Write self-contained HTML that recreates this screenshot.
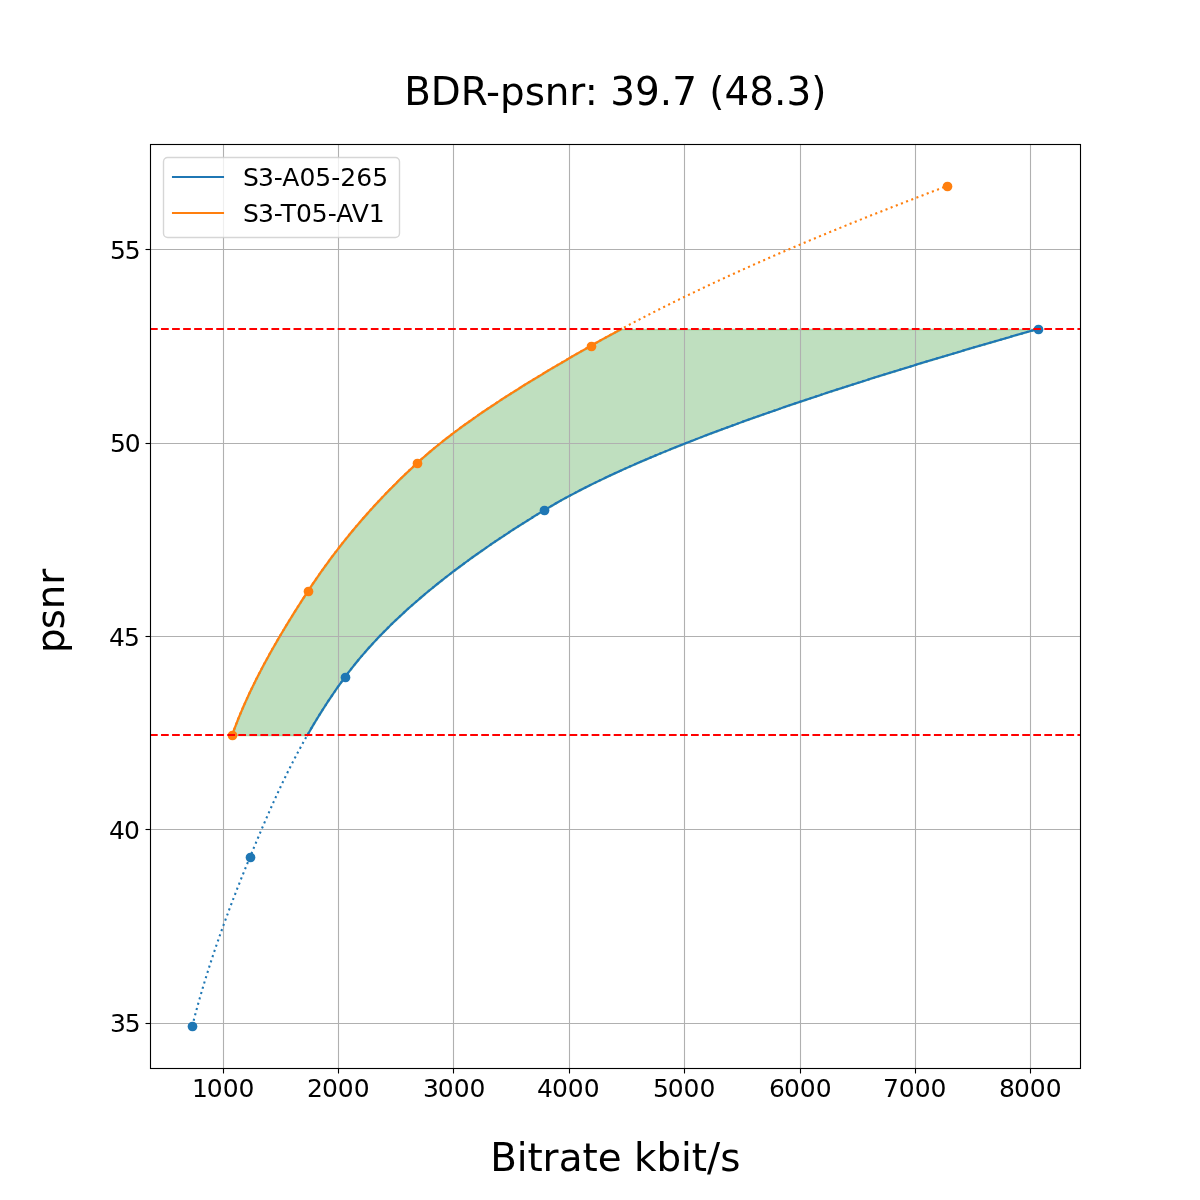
<!DOCTYPE html>
<html lang="en"><head><meta charset="utf-8"><title>BDR-psnr: 39.7 (48.3)</title>
<style>html,body{margin:0;padding:0;background:#fff}body{width:1200px;height:1200px;overflow:hidden}svg{display:block}text{font-family:"DejaVu Sans", "Liberation Sans", sans-serif;fill:#000}</style></head><body>
<svg width="1200" height="1200" viewBox="0 0 1200 1200">
<rect width="1200" height="1200" fill="#fff"/>
<defs><clipPath id="ax"><rect x="150" y="144" width="930" height="924"/></clipPath></defs>
<g clip-path="url(#ax)">
<path d="M307.42 735.00 L308.00 733.98 L308.59 732.96 L309.17 731.95 L309.76 730.93 L310.35 729.91 L310.95 728.89 L311.54 727.88 L312.14 726.86 L312.75 725.84 L313.35 724.82 L313.96 723.81 L314.57 722.79 L315.18 721.77 L315.79 720.75 L316.41 719.74 L317.03 718.72 L317.65 717.70 L318.28 716.68 L318.91 715.67 L319.54 714.65 L320.17 713.63 L320.81 712.61 L321.45 711.60 L322.09 710.58 L322.74 709.56 L323.39 708.54 L324.04 707.53 L324.69 706.51 L325.35 705.49 L326.01 704.47 L326.67 703.46 L327.34 702.44 L328.01 701.42 L328.68 700.40 L329.36 699.39 L330.03 698.37 L330.72 697.35 L331.40 696.33 L332.09 695.32 L332.78 694.30 L333.47 693.28 L334.17 692.26 L334.87 691.25 L335.57 690.23 L336.28 689.21 L336.99 688.19 L337.70 687.18 L338.42 686.16 L339.14 685.14 L339.86 684.12 L340.59 683.11 L341.32 682.09 L342.05 681.07 L342.79 680.05 L343.53 679.04 L344.27 678.02 L345.02 677.00 L345.77 675.98 L346.53 674.96 L347.29 673.95 L348.06 672.93 L348.84 671.91 L349.62 670.89 L350.41 669.88 L351.20 668.86 L352.00 667.84 L352.80 666.82 L353.61 665.81 L354.42 664.79 L355.24 663.77 L356.07 662.75 L356.90 661.74 L357.74 660.72 L358.58 659.70 L359.43 658.68 L360.29 657.67 L361.15 656.65 L362.01 655.63 L362.89 654.61 L363.76 653.60 L364.65 652.58 L365.53 651.56 L366.43 650.54 L367.33 649.53 L368.24 648.51 L369.15 647.49 L370.06 646.47 L370.99 645.46 L371.92 644.44 L372.85 643.42 L373.79 642.40 L374.74 641.39 L375.69 640.37 L376.64 639.35 L377.61 638.33 L378.58 637.32 L379.55 636.30 L380.53 635.28 L381.51 634.26 L382.51 633.25 L383.50 632.23 L384.51 631.21 L385.51 630.19 L386.53 629.18 L387.55 628.16 L388.57 627.14 L389.60 626.12 L390.64 625.11 L391.68 624.09 L392.73 623.07 L393.78 622.05 L394.84 621.04 L395.91 620.02 L396.98 619.00 L398.06 617.98 L399.14 616.96 L400.23 615.95 L401.32 614.93 L402.42 613.91 L403.52 612.89 L404.63 611.88 L405.75 610.86 L406.87 609.84 L408.00 608.82 L409.13 607.81 L410.27 606.79 L411.42 605.77 L412.57 604.75 L413.72 603.74 L414.88 602.72 L416.05 601.70 L417.22 600.68 L418.40 599.67 L419.59 598.65 L420.78 597.63 L421.97 596.61 L423.17 595.60 L424.38 594.58 L425.59 593.56 L426.81 592.54 L428.04 591.53 L429.27 590.51 L430.50 589.49 L431.74 588.47 L432.99 587.46 L434.24 586.44 L435.50 585.42 L436.76 584.40 L438.03 583.39 L439.31 582.37 L440.59 581.35 L441.87 580.33 L443.17 579.32 L444.46 578.30 L445.77 577.28 L447.08 576.26 L448.39 575.25 L449.71 574.23 L451.04 573.21 L452.37 572.19 L453.71 571.18 L455.05 570.16 L456.40 569.14 L457.75 568.12 L459.11 567.11 L460.48 566.09 L461.85 565.07 L463.23 564.05 L464.61 563.04 L466.00 562.02 L467.39 561.00 L468.79 559.98 L470.20 558.96 L471.61 557.95 L473.03 556.93 L474.45 555.91 L475.88 554.89 L477.31 553.88 L478.75 552.86 L480.20 551.84 L481.65 550.82 L483.10 549.81 L484.57 548.79 L486.03 547.77 L487.51 546.75 L488.99 545.74 L490.47 544.72 L491.96 543.70 L493.46 542.68 L494.96 541.67 L496.47 540.65 L497.98 539.63 L499.50 538.61 L501.02 537.60 L502.56 536.58 L504.09 535.56 L505.63 534.54 L507.18 533.53 L508.73 532.51 L510.29 531.49 L511.86 530.47 L513.43 529.46 L515.00 528.44 L516.58 527.42 L518.17 526.40 L519.76 525.39 L521.36 524.37 L522.96 523.35 L524.57 522.33 L526.19 521.32 L527.81 520.30 L529.43 519.28 L531.07 518.26 L532.70 517.25 L534.35 516.23 L536.00 515.21 L537.65 514.19 L539.31 513.18 L540.98 512.16 L542.65 511.14 L544.33 510.12 L546.02 509.11 L547.72 508.09 L549.44 507.07 L551.17 506.05 L552.92 505.04 L554.69 504.02 L556.47 503.00 L558.26 501.98 L560.07 500.96 L561.90 499.95 L563.74 498.93 L565.59 497.91 L567.46 496.89 L569.35 495.88 L571.25 494.86 L573.16 493.84 L575.09 492.82 L577.03 491.81 L578.99 490.79 L580.96 489.77 L582.95 488.75 L584.95 487.74 L586.96 486.72 L588.99 485.70 L591.03 484.68 L593.09 483.67 L595.16 482.65 L597.24 481.63 L599.34 480.61 L601.45 479.60 L603.58 478.58 L605.72 477.56 L607.88 476.54 L610.04 475.53 L612.22 474.51 L614.42 473.49 L616.63 472.47 L618.85 471.46 L621.08 470.44 L623.33 469.42 L625.59 468.40 L627.87 467.39 L630.16 466.37 L632.46 465.35 L634.77 464.33 L637.10 463.32 L639.44 462.30 L641.79 461.28 L644.16 460.26 L646.54 459.25 L648.93 458.23 L651.33 457.21 L653.75 456.19 L656.18 455.18 L658.62 454.16 L661.08 453.14 L663.55 452.12 L666.02 451.11 L668.52 450.09 L671.02 449.07 L673.54 448.05 L676.07 447.04 L678.61 446.02 L681.16 445.00 L683.72 443.98 L686.30 442.96 L688.89 441.95 L691.49 440.93 L694.10 439.91 L696.72 438.89 L699.36 437.88 L702.01 436.86 L704.67 435.84 L707.34 434.82 L710.02 433.81 L712.71 432.79 L715.42 431.77 L718.13 430.75 L720.86 429.74 L723.60 428.72 L726.35 427.70 L729.11 426.68 L731.88 425.67 L734.66 424.65 L737.46 423.63 L740.26 422.61 L743.08 421.60 L745.90 420.58 L748.74 419.56 L751.59 418.54 L754.45 417.53 L757.31 416.51 L760.19 415.49 L763.08 414.47 L765.98 413.46 L768.89 412.44 L771.81 411.42 L774.75 410.40 L777.69 409.39 L780.64 408.37 L783.60 407.35 L786.57 406.33 L789.55 405.32 L792.54 404.30 L795.55 403.28 L798.56 402.26 L801.58 401.25 L804.61 400.23 L807.65 399.21 L810.70 398.19 L813.76 397.18 L816.83 396.16 L819.91 395.14 L822.99 394.12 L826.09 393.11 L829.20 392.09 L832.31 391.07 L835.44 390.05 L838.57 389.04 L841.72 388.02 L844.87 387.00 L848.03 385.98 L851.20 384.96 L854.38 383.95 L857.57 382.93 L860.76 381.91 L863.97 380.89 L867.18 379.88 L870.40 378.86 L873.63 377.84 L876.87 376.82 L880.12 375.81 L883.38 374.79 L886.64 373.77 L889.92 372.75 L893.20 371.74 L896.49 370.72 L899.78 369.70 L903.09 368.68 L906.40 367.67 L909.72 366.65 L913.05 365.63 L916.39 364.61 L919.74 363.60 L923.09 362.58 L926.45 361.56 L929.82 360.54 L933.19 359.53 L936.58 358.51 L939.97 357.49 L943.37 356.47 L946.77 355.46 L950.18 354.44 L953.60 353.42 L957.03 352.40 L960.47 351.39 L963.91 350.37 L967.36 349.35 L970.81 348.33 L974.27 347.32 L977.74 346.30 L981.22 345.28 L984.70 344.26 L988.19 343.25 L991.69 342.23 L995.19 341.21 L998.70 340.19 L1002.22 339.18 L1005.74 338.16 L1009.27 337.14 L1012.81 336.12 L1016.35 335.11 L1019.90 334.09 L1023.45 333.07 L1027.01 332.05 L1030.58 331.04 L1034.15 330.02 L1037.73 329.00 L621.30 329.00 L619.41 330.02 L617.52 331.04 L615.64 332.05 L613.76 333.07 L611.89 334.09 L610.02 335.11 L608.17 336.12 L606.32 337.14 L604.47 338.16 L602.63 339.18 L600.80 340.19 L598.98 341.21 L597.16 342.23 L595.34 343.25 L593.54 344.26 L591.74 345.28 L589.95 346.30 L588.16 347.32 L586.37 348.33 L584.59 349.35 L582.80 350.37 L581.03 351.39 L579.25 352.40 L577.48 353.42 L575.71 354.44 L573.95 355.46 L572.19 356.47 L570.43 357.49 L568.68 358.51 L566.93 359.53 L565.18 360.54 L563.44 361.56 L561.70 362.58 L559.96 363.60 L558.23 364.61 L556.50 365.63 L554.78 366.65 L553.06 367.67 L551.34 368.68 L549.63 369.70 L547.92 370.72 L546.22 371.74 L544.52 372.75 L542.83 373.77 L541.14 374.79 L539.45 375.81 L537.77 376.82 L536.09 377.84 L534.42 378.86 L532.75 379.88 L531.09 380.89 L529.43 381.91 L527.78 382.93 L526.13 383.95 L524.49 384.96 L522.85 385.98 L521.21 387.00 L519.59 388.02 L517.96 389.04 L516.34 390.05 L514.73 391.07 L513.12 392.09 L511.52 393.11 L509.92 394.12 L508.33 395.14 L506.74 396.16 L505.16 397.18 L503.59 398.19 L502.02 399.21 L500.45 400.23 L498.90 401.25 L497.34 402.26 L495.80 403.28 L494.26 404.30 L492.72 405.32 L491.19 406.33 L489.67 407.35 L488.15 408.37 L486.64 409.39 L485.14 410.40 L483.64 411.42 L482.15 412.44 L480.67 413.46 L479.19 414.47 L477.71 415.49 L476.25 416.51 L474.79 417.53 L473.34 418.54 L471.89 419.56 L470.45 420.58 L469.02 421.60 L467.59 422.61 L466.18 423.63 L464.76 424.65 L463.36 425.67 L461.96 426.68 L460.57 427.70 L459.19 428.72 L457.81 429.74 L456.44 430.75 L455.08 431.77 L453.73 432.79 L452.38 433.81 L451.04 434.82 L449.71 435.84 L448.38 436.86 L447.07 437.88 L445.76 438.89 L444.46 439.91 L443.16 440.93 L441.88 441.95 L440.60 442.96 L439.33 443.98 L438.07 445.00 L436.81 446.02 L435.57 447.04 L434.33 448.05 L433.10 449.07 L431.88 450.09 L430.67 451.11 L429.46 452.12 L428.27 453.14 L427.08 454.16 L425.90 455.18 L424.73 456.19 L423.57 457.21 L422.42 458.23 L421.27 459.25 L420.14 460.26 L419.01 461.28 L417.89 462.30 L416.78 463.32 L415.68 464.33 L414.58 465.35 L413.49 466.37 L412.40 467.39 L411.31 468.40 L410.23 469.42 L409.16 470.44 L408.09 471.46 L407.02 472.47 L405.95 473.49 L404.89 474.51 L403.84 475.53 L402.79 476.54 L401.74 477.56 L400.70 478.58 L399.66 479.60 L398.63 480.61 L397.60 481.63 L396.57 482.65 L395.55 483.67 L394.53 484.68 L393.52 485.70 L392.51 486.72 L391.50 487.74 L390.50 488.75 L389.50 489.77 L388.51 490.79 L387.52 491.81 L386.53 492.82 L385.55 493.84 L384.57 494.86 L383.60 495.88 L382.63 496.89 L381.66 497.91 L380.70 498.93 L379.74 499.95 L378.79 500.96 L377.84 501.98 L376.89 503.00 L375.95 504.02 L375.01 505.04 L374.08 506.05 L373.14 507.07 L372.22 508.09 L371.29 509.11 L370.37 510.12 L369.46 511.14 L368.54 512.16 L367.64 513.18 L366.73 514.19 L365.83 515.21 L364.93 516.23 L364.04 517.25 L363.15 518.26 L362.26 519.28 L361.38 520.30 L360.50 521.32 L359.62 522.33 L358.75 523.35 L357.88 524.37 L357.01 525.39 L356.15 526.40 L355.29 527.42 L354.44 528.44 L353.58 529.46 L352.74 530.47 L351.89 531.49 L351.05 532.51 L350.21 533.53 L349.38 534.54 L348.55 535.56 L347.72 536.58 L346.89 537.60 L346.07 538.61 L345.26 539.63 L344.44 540.65 L343.63 541.67 L342.82 542.68 L342.02 543.70 L341.22 544.72 L340.42 545.74 L339.62 546.75 L338.83 547.77 L338.05 548.79 L337.26 549.81 L336.48 550.82 L335.70 551.84 L334.92 552.86 L334.15 553.88 L333.38 554.89 L332.62 555.91 L331.85 556.93 L331.09 557.95 L330.34 558.96 L329.58 559.98 L328.83 561.00 L328.08 562.02 L327.34 563.04 L326.60 564.05 L325.86 565.07 L325.12 566.09 L324.39 567.11 L323.66 568.12 L322.93 569.14 L322.21 570.16 L321.49 571.18 L320.77 572.19 L320.05 573.21 L319.34 574.23 L318.63 575.25 L317.92 576.26 L317.22 577.28 L316.52 578.30 L315.82 579.32 L315.13 580.33 L314.43 581.35 L313.74 582.37 L313.05 583.39 L312.37 584.40 L311.69 585.42 L311.01 586.44 L310.33 587.46 L309.66 588.47 L308.99 589.49 L308.32 590.51 L307.65 591.53 L306.99 592.54 L306.32 593.56 L305.66 594.58 L305.00 595.60 L304.34 596.61 L303.68 597.63 L303.03 598.65 L302.37 599.67 L301.72 600.68 L301.06 601.70 L300.41 602.72 L299.76 603.74 L299.11 604.75 L298.46 605.77 L297.82 606.79 L297.17 607.81 L296.53 608.82 L295.89 609.84 L295.25 610.86 L294.61 611.88 L293.97 612.89 L293.33 613.91 L292.70 614.93 L292.06 615.95 L291.43 616.96 L290.80 617.98 L290.17 619.00 L289.55 620.02 L288.92 621.04 L288.30 622.05 L287.67 623.07 L287.05 624.09 L286.43 625.11 L285.82 626.12 L285.20 627.14 L284.59 628.16 L283.97 629.18 L283.36 630.19 L282.75 631.21 L282.15 632.23 L281.54 633.25 L280.94 634.26 L280.34 635.28 L279.73 636.30 L279.14 637.32 L278.54 638.33 L277.94 639.35 L277.35 640.37 L276.76 641.39 L276.17 642.40 L275.58 643.42 L275.00 644.44 L274.41 645.46 L273.83 646.47 L273.25 647.49 L272.67 648.51 L272.10 649.53 L271.52 650.54 L270.95 651.56 L270.38 652.58 L269.81 653.60 L269.25 654.61 L268.68 655.63 L268.12 656.65 L267.56 657.67 L267.00 658.68 L266.45 659.70 L265.90 660.72 L265.34 661.74 L264.79 662.75 L264.25 663.77 L263.70 664.79 L263.16 665.81 L262.62 666.82 L262.08 667.84 L261.54 668.86 L261.01 669.88 L260.48 670.89 L259.95 671.91 L259.42 672.93 L258.90 673.95 L258.37 674.96 L257.85 675.98 L257.34 677.00 L256.82 678.02 L256.31 679.04 L255.80 680.05 L255.29 681.07 L254.78 682.09 L254.28 683.11 L253.78 684.12 L253.28 685.14 L252.78 686.16 L252.29 687.18 L251.80 688.19 L251.31 689.21 L250.82 690.23 L250.34 691.25 L249.85 692.26 L249.38 693.28 L248.90 694.30 L248.43 695.32 L247.95 696.33 L247.49 697.35 L247.02 698.37 L246.56 699.39 L246.10 700.40 L245.64 701.42 L245.18 702.44 L244.73 703.46 L244.28 704.47 L243.83 705.49 L243.39 706.51 L242.95 707.53 L242.51 708.54 L242.07 709.56 L241.64 710.58 L241.21 711.60 L240.78 712.61 L240.35 713.63 L239.93 714.65 L239.51 715.67 L239.09 716.68 L238.68 717.70 L238.27 718.72 L237.86 719.74 L237.46 720.75 L237.05 721.77 L236.66 722.79 L236.26 723.81 L235.87 724.82 L235.48 725.84 L235.09 726.86 L234.70 727.88 L234.32 728.89 L233.94 729.91 L233.57 730.93 L233.20 731.95 L232.83 732.96 L232.46 733.98 L232.10 735.00Z" fill="#008000" fill-opacity="0.25" stroke="#008000" stroke-opacity="0.25" stroke-width="1.389" stroke-linejoin="miter" transform="translate(0.5 0.5)"/>
<line x1="223.5" y1="144" x2="223.5" y2="1068" stroke="#b0b0b0" stroke-width="1.111"/>
<line x1="338.5" y1="144" x2="338.5" y2="1068" stroke="#b0b0b0" stroke-width="1.111"/>
<line x1="453.5" y1="144" x2="453.5" y2="1068" stroke="#b0b0b0" stroke-width="1.111"/>
<line x1="569.5" y1="144" x2="569.5" y2="1068" stroke="#b0b0b0" stroke-width="1.111"/>
<line x1="684.5" y1="144" x2="684.5" y2="1068" stroke="#b0b0b0" stroke-width="1.111"/>
<line x1="800.5" y1="144" x2="800.5" y2="1068" stroke="#b0b0b0" stroke-width="1.111"/>
<line x1="915.5" y1="144" x2="915.5" y2="1068" stroke="#b0b0b0" stroke-width="1.111"/>
<line x1="1030.5" y1="144" x2="1030.5" y2="1068" stroke="#b0b0b0" stroke-width="1.111"/>
<line x1="150" y1="249.5" x2="1080" y2="249.5" stroke="#b0b0b0" stroke-width="1.111"/>
<line x1="150" y1="443.5" x2="1080" y2="443.5" stroke="#b0b0b0" stroke-width="1.111"/>
<line x1="150" y1="636.5" x2="1080" y2="636.5" stroke="#b0b0b0" stroke-width="1.111"/>
<line x1="150" y1="829.5" x2="1080" y2="829.5" stroke="#b0b0b0" stroke-width="1.111"/>
<line x1="150" y1="1023.5" x2="1080" y2="1023.5" stroke="#b0b0b0" stroke-width="1.111"/>
<circle cx="192.5" cy="1026.5" r="4.861" fill="#1f77b4"/>
<circle cx="250.5" cy="857.5" r="4.861" fill="#1f77b4"/>
<circle cx="345.5" cy="677.5" r="4.861" fill="#1f77b4"/>
<circle cx="544.5" cy="510.5" r="4.861" fill="#1f77b4"/>
<circle cx="1038.5" cy="329.5" r="4.861" fill="#1f77b4"/>
<path d="M192.27 1026.00 L192.56 1024.84 L192.86 1023.67 L193.16 1022.51 L193.46 1021.35 L193.76 1020.18 L194.06 1019.02 L194.36 1017.85 L194.67 1016.69 L194.98 1015.53 L195.29 1014.36 L195.60 1013.20 L195.91 1012.04 L196.22 1010.87 L196.54 1009.71 L196.86 1008.55 L197.18 1007.38 L197.50 1006.22 L197.82 1005.06 L198.14 1003.89 L198.47 1002.73 L198.79 1001.56 L199.12 1000.40 L199.45 999.24 L199.79 998.07 L200.12 996.91 L200.45 995.75 L200.79 994.58 L201.13 993.42 L201.47 992.26 L201.81 991.09 L202.15 989.93 L202.50 988.76 L202.84 987.60 L203.19 986.44 L203.54 985.27 L203.89 984.11 L204.24 982.95 L204.60 981.78 L204.95 980.62 L205.31 979.46 L205.67 978.29 L206.03 977.13 L206.39 975.96 L206.75 974.80 L207.11 973.64 L207.48 972.47 L207.85 971.31 L208.21 970.15 L208.58 968.98 L208.96 967.82 L209.33 966.66 L209.70 965.49 L210.08 964.33 L210.46 963.17 L210.83 962.00 L211.21 960.84 L211.59 959.67 L211.98 958.51 L212.36 957.35 L212.75 956.18 L213.13 955.02 L213.52 953.86 L213.91 952.69 L214.30 951.53 L214.69 950.37 L215.09 949.20 L215.48 948.04 L215.88 946.87 L216.28 945.71 L216.67 944.55 L217.07 943.38 L217.48 942.22 L217.88 941.06 L218.28 939.89 L218.69 938.73 L219.09 937.57 L219.50 936.40 L219.91 935.24 L220.32 934.08 L220.73 932.91 L221.15 931.75 L221.56 930.58 L221.98 929.42 L222.39 928.26 L222.81 927.09 L223.23 925.93 L223.65 924.77 L224.07 923.60 L224.49 922.44 L224.92 921.28 L225.34 920.11 L225.77 918.95 L226.20 917.78 L226.62 916.62 L227.05 915.46 L227.49 914.29 L227.92 913.13 L228.35 911.97 L228.79 910.80 L229.22 909.64 L229.66 908.48 L230.10 907.31 L230.53 906.15 L230.97 904.98 L231.42 903.82 L231.86 902.66 L232.30 901.49 L232.75 900.33 L233.19 899.17 L233.64 898.00 L234.09 896.84 L234.54 895.68 L234.99 894.51 L235.44 893.35 L235.89 892.19 L236.34 891.02 L236.80 889.86 L237.25 888.69 L237.71 887.53 L238.16 886.37 L238.62 885.20 L239.08 884.04 L239.54 882.88 L240.00 881.71 L240.46 880.55 L240.93 879.39 L241.39 878.22 L241.86 877.06 L242.32 875.89 L242.79 874.73 L243.26 873.57 L243.73 872.40 L244.20 871.24 L244.67 870.08 L245.14 868.91 L245.61 867.75 L246.09 866.59 L246.56 865.42 L247.04 864.26 L247.51 863.10 L247.99 861.93 L248.47 860.77 L248.95 859.60 L249.43 858.44 L249.91 857.28 L250.39 856.11 L250.87 854.95 L251.35 853.79 L251.84 852.62 L252.32 851.46 L252.80 850.30 L253.29 849.13 L253.77 847.97 L254.26 846.80 L254.74 845.64 L255.23 844.48 L255.71 843.31 L256.20 842.15 L256.69 840.99 L257.18 839.82 L257.67 838.66 L258.16 837.50 L258.65 836.33 L259.14 835.17 L259.63 834.01 L260.12 832.84 L260.62 831.68 L261.11 830.51 L261.61 829.35 L262.11 828.19 L262.60 827.02 L263.10 825.86 L263.60 824.70 L264.10 823.53 L264.60 822.37 L265.11 821.21 L265.61 820.04 L266.12 818.88 L266.62 817.71 L267.13 816.55 L267.64 815.39 L268.15 814.22 L268.66 813.06 L269.18 811.90 L269.69 810.73 L270.21 809.57 L270.72 808.41 L271.24 807.24 L271.76 806.08 L272.28 804.91 L272.81 803.75 L273.33 802.59 L273.86 801.42 L274.39 800.26 L274.92 799.10 L275.45 797.93 L275.98 796.77 L276.51 795.61 L277.05 794.44 L277.59 793.28 L278.13 792.12 L278.67 790.95 L279.21 789.79 L279.76 788.62 L280.31 787.46 L280.86 786.30 L281.41 785.13 L281.96 783.97 L282.52 782.81 L283.07 781.64 L283.63 780.48 L284.19 779.32 L284.76 778.15 L285.32 776.99 L285.89 775.82 L286.46 774.66 L287.03 773.50 L287.61 772.33 L288.19 771.17 L288.77 770.01 L289.35 768.84 L289.93 767.68 L290.52 766.52 L291.11 765.35 L291.70 764.19 L292.29 763.03 L292.89 761.86 L293.49 760.70 L294.09 759.53 L294.69 758.37 L295.30 757.21 L295.91 756.04 L296.52 754.88 L297.14 753.72 L297.75 752.55 L298.37 751.39 L299.00 750.23 L299.62 749.06 L300.25 747.90 L300.88 746.73 L301.52 745.57 L302.16 744.41 L302.80 743.24 L303.44 742.08 L304.09 740.92 L304.74 739.75 L305.39 738.59 L306.04 737.43 L306.70 736.26 L307.37 735.10 L308.03 733.93 L308.70 732.77 L309.37 731.61 L310.04 730.44 L310.72 729.28 L311.40 728.12 L312.09 726.95 L312.78 725.79 L313.47 724.63 L314.16 723.46 L314.86 722.30 L315.56 721.14 L316.27 719.97 L316.98 718.81 L317.69 717.64 L318.41 716.48 L319.13 715.32 L319.85 714.15 L320.58 712.99 L321.31 711.83 L322.04 710.66 L322.78 709.50 L323.52 708.34 L324.27 707.17 L325.02 706.01 L325.77 704.84 L326.53 703.68 L327.29 702.52 L328.05 701.35 L328.82 700.19 L329.60 699.03 L330.37 697.86 L331.15 696.70 L331.94 695.54 L332.73 694.37 L333.52 693.21 L334.32 692.05 L335.12 690.88 L335.93 689.72 L336.74 688.55 L337.55 687.39 L338.37 686.23 L339.19 685.06 L340.02 683.90 L340.85 682.74 L341.69 681.57 L342.53 680.41 L343.38 679.25 L344.23 678.08 L345.08 676.92 L345.94 675.75 L346.81 674.59 L347.69 673.43 L348.57 672.26 L349.46 671.10 L350.36 669.94 L351.27 668.77 L352.18 667.61 L353.10 666.45 L354.03 665.28 L354.96 664.12 L355.91 662.95 L356.86 661.79 L357.82 660.63 L358.78 659.46 L359.75 658.30 L360.73 657.14 L361.72 655.97 L362.72 654.81 L363.72 653.65 L364.73 652.48 L365.75 651.32 L366.77 650.16 L367.80 648.99 L368.84 647.83 L369.89 646.66 L370.95 645.50 L372.01 644.34 L373.08 643.17 L374.16 642.01 L375.24 640.85 L376.33 639.68 L377.43 638.52 L378.54 637.36 L379.65 636.19 L380.77 635.03 L381.90 633.86 L383.04 632.70 L384.18 631.54 L385.33 630.37 L386.49 629.21 L387.66 628.05 L388.83 626.88 L390.01 625.72 L391.20 624.56 L392.40 623.39 L393.60 622.23 L394.81 621.07 L396.03 619.90 L397.26 618.74 L398.49 617.57 L399.73 616.41 L400.98 615.25 L402.23 614.08 L403.50 612.92 L404.77 611.76 L406.04 610.59 L407.33 609.43 L408.62 608.27 L409.92 607.10 L411.23 605.94 L412.54 604.77 L413.86 603.61 L415.19 602.45 L416.53 601.28 L417.88 600.12 L419.23 598.96 L420.59 597.79 L421.95 596.63 L423.33 595.47 L424.71 594.30 L426.10 593.14 L427.49 591.97 L428.90 590.81 L430.31 589.65 L431.73 588.48 L433.15 587.32 L434.59 586.16 L436.03 584.99 L437.48 583.83 L438.93 582.67 L440.40 581.50 L441.87 580.34 L443.35 579.18 L444.83 578.01 L446.32 576.85 L447.82 575.68 L449.33 574.52 L450.85 573.36 L452.37 572.19 L453.90 571.03 L455.44 569.87 L456.98 568.70 L458.53 567.54 L460.09 566.38 L461.66 565.21 L463.23 564.05 L464.82 562.88 L466.41 561.72 L468.00 560.56 L469.61 559.39 L471.22 558.23 L472.84 557.07 L474.46 555.90 L476.10 554.74 L477.74 553.58 L479.39 552.41 L481.04 551.25 L482.71 550.09 L484.38 548.92 L486.05 547.76 L487.74 546.59 L489.43 545.43 L491.13 544.27 L492.84 543.10 L494.56 541.94 L496.28 540.78 L498.01 539.61 L499.75 538.45 L501.49 537.29 L503.24 536.12 L505.00 534.96 L506.77 533.79 L508.55 532.63 L510.33 531.47 L512.12 530.30 L513.91 529.14 L515.72 527.98 L517.53 526.81 L519.35 525.65 L521.17 524.49 L523.01 523.32 L524.85 522.16 L526.70 520.99 L528.55 519.83 L530.42 518.67 L532.29 517.50 L534.17 516.34 L536.05 515.18 L537.94 514.01 L539.84 512.85 L541.75 511.69 L543.67 510.52 L545.59 509.36 L547.54 508.20 L549.50 507.03 L551.49 505.87 L553.50 504.70 L555.52 503.54 L557.57 502.38 L559.63 501.21 L561.71 500.05 L563.82 498.89 L565.94 497.72 L568.08 496.56 L570.24 495.40 L572.42 494.23 L574.62 493.07 L576.84 491.90 L579.08 490.74 L581.34 489.58 L583.61 488.41 L585.91 487.25 L588.22 486.09 L590.55 484.92 L592.90 483.76 L595.27 482.60 L597.65 481.43 L600.06 480.27 L602.48 479.11 L604.92 477.94 L607.38 476.78 L609.85 475.61 L612.35 474.45 L614.86 473.29 L617.39 472.12 L619.94 470.96 L622.50 469.80 L625.08 468.63 L627.68 467.47 L630.30 466.31 L632.93 465.14 L635.58 463.98 L638.25 462.81 L640.94 461.65 L643.64 460.49 L646.36 459.32 L649.09 458.16 L651.84 457.00 L654.61 455.83 L657.39 454.67 L660.20 453.51 L663.01 452.34 L665.85 451.18 L668.70 450.02 L671.56 448.85 L674.44 447.69 L677.34 446.52 L680.25 445.36 L683.18 444.20 L686.13 443.03 L689.09 441.87 L692.06 440.71 L695.05 439.54 L698.06 438.38 L701.08 437.22 L704.12 436.05 L707.17 434.89 L710.24 433.72 L713.32 432.56 L716.42 431.40 L719.53 430.23 L722.65 429.07 L725.79 427.91 L728.95 426.74 L732.12 425.58 L735.30 424.42 L738.50 423.25 L741.71 422.09 L744.94 420.92 L748.18 419.76 L751.44 418.60 L754.70 417.43 L757.99 416.27 L761.28 415.11 L764.59 413.94 L767.92 412.78 L771.25 411.62 L774.60 410.45 L777.97 409.29 L781.35 408.13 L784.74 406.96 L788.14 405.80 L791.56 404.63 L794.98 403.47 L798.43 402.31 L801.88 401.14 L805.35 399.98 L808.83 398.82 L812.32 397.65 L815.83 396.49 L819.34 395.33 L822.87 394.16 L826.42 393.00 L829.97 391.83 L833.54 390.67 L837.12 389.51 L840.71 388.34 L844.31 387.18 L847.92 386.02 L851.55 384.85 L855.18 383.69 L858.83 382.53 L862.49 381.36 L866.16 380.20 L869.85 379.04 L873.54 377.87 L877.25 376.71 L880.96 375.54 L884.69 374.38 L888.43 373.22 L892.18 372.05 L895.93 370.89 L899.70 369.73 L903.48 368.56 L907.28 367.40 L911.08 366.24 L914.89 365.07 L918.71 363.91 L922.54 362.74 L926.38 361.58 L930.24 360.42 L934.10 359.25 L937.97 358.09 L941.85 356.93 L945.74 355.76 L949.64 354.60 L953.55 353.44 L957.47 352.27 L961.40 351.11 L965.34 349.94 L969.29 348.78 L973.25 347.62 L977.21 346.45 L981.19 345.29 L985.17 344.13 L989.16 342.96 L993.16 341.80 L997.17 340.64 L1001.19 339.47 L1005.22 338.31 L1009.25 337.15 L1013.30 335.98 L1017.35 334.82 L1021.41 333.65 L1025.48 332.49 L1029.55 331.33 L1033.64 330.16 L1037.73 329.00" fill="none" stroke="#1f77b4" stroke-width="2.083" stroke-dasharray="2.083 3.437"/>
<path d="M307.42 735.00 L308.00 733.98 L308.59 732.96 L309.17 731.95 L309.76 730.93 L310.35 729.91 L310.95 728.89 L311.54 727.88 L312.14 726.86 L312.75 725.84 L313.35 724.82 L313.96 723.81 L314.57 722.79 L315.18 721.77 L315.79 720.75 L316.41 719.74 L317.03 718.72 L317.65 717.70 L318.28 716.68 L318.91 715.67 L319.54 714.65 L320.17 713.63 L320.81 712.61 L321.45 711.60 L322.09 710.58 L322.74 709.56 L323.39 708.54 L324.04 707.53 L324.69 706.51 L325.35 705.49 L326.01 704.47 L326.67 703.46 L327.34 702.44 L328.01 701.42 L328.68 700.40 L329.36 699.39 L330.03 698.37 L330.72 697.35 L331.40 696.33 L332.09 695.32 L332.78 694.30 L333.47 693.28 L334.17 692.26 L334.87 691.25 L335.57 690.23 L336.28 689.21 L336.99 688.19 L337.70 687.18 L338.42 686.16 L339.14 685.14 L339.86 684.12 L340.59 683.11 L341.32 682.09 L342.05 681.07 L342.79 680.05 L343.53 679.04 L344.27 678.02 L345.02 677.00 L345.77 675.98 L346.53 674.96 L347.29 673.95 L348.06 672.93 L348.84 671.91 L349.62 670.89 L350.41 669.88 L351.20 668.86 L352.00 667.84 L352.80 666.82 L353.61 665.81 L354.42 664.79 L355.24 663.77 L356.07 662.75 L356.90 661.74 L357.74 660.72 L358.58 659.70 L359.43 658.68 L360.29 657.67 L361.15 656.65 L362.01 655.63 L362.89 654.61 L363.76 653.60 L364.65 652.58 L365.53 651.56 L366.43 650.54 L367.33 649.53 L368.24 648.51 L369.15 647.49 L370.06 646.47 L370.99 645.46 L371.92 644.44 L372.85 643.42 L373.79 642.40 L374.74 641.39 L375.69 640.37 L376.64 639.35 L377.61 638.33 L378.58 637.32 L379.55 636.30 L380.53 635.28 L381.51 634.26 L382.51 633.25 L383.50 632.23 L384.51 631.21 L385.51 630.19 L386.53 629.18 L387.55 628.16 L388.57 627.14 L389.60 626.12 L390.64 625.11 L391.68 624.09 L392.73 623.07 L393.78 622.05 L394.84 621.04 L395.91 620.02 L396.98 619.00 L398.06 617.98 L399.14 616.96 L400.23 615.95 L401.32 614.93 L402.42 613.91 L403.52 612.89 L404.63 611.88 L405.75 610.86 L406.87 609.84 L408.00 608.82 L409.13 607.81 L410.27 606.79 L411.42 605.77 L412.57 604.75 L413.72 603.74 L414.88 602.72 L416.05 601.70 L417.22 600.68 L418.40 599.67 L419.59 598.65 L420.78 597.63 L421.97 596.61 L423.17 595.60 L424.38 594.58 L425.59 593.56 L426.81 592.54 L428.04 591.53 L429.27 590.51 L430.50 589.49 L431.74 588.47 L432.99 587.46 L434.24 586.44 L435.50 585.42 L436.76 584.40 L438.03 583.39 L439.31 582.37 L440.59 581.35 L441.87 580.33 L443.17 579.32 L444.46 578.30 L445.77 577.28 L447.08 576.26 L448.39 575.25 L449.71 574.23 L451.04 573.21 L452.37 572.19 L453.71 571.18 L455.05 570.16 L456.40 569.14 L457.75 568.12 L459.11 567.11 L460.48 566.09 L461.85 565.07 L463.23 564.05 L464.61 563.04 L466.00 562.02 L467.39 561.00 L468.79 559.98 L470.20 558.96 L471.61 557.95 L473.03 556.93 L474.45 555.91 L475.88 554.89 L477.31 553.88 L478.75 552.86 L480.20 551.84 L481.65 550.82 L483.10 549.81 L484.57 548.79 L486.03 547.77 L487.51 546.75 L488.99 545.74 L490.47 544.72 L491.96 543.70 L493.46 542.68 L494.96 541.67 L496.47 540.65 L497.98 539.63 L499.50 538.61 L501.02 537.60 L502.56 536.58 L504.09 535.56 L505.63 534.54 L507.18 533.53 L508.73 532.51 L510.29 531.49 L511.86 530.47 L513.43 529.46 L515.00 528.44 L516.58 527.42 L518.17 526.40 L519.76 525.39 L521.36 524.37 L522.96 523.35 L524.57 522.33 L526.19 521.32 L527.81 520.30 L529.43 519.28 L531.07 518.26 L532.70 517.25 L534.35 516.23 L536.00 515.21 L537.65 514.19 L539.31 513.18 L540.98 512.16 L542.65 511.14 L544.33 510.12 L546.02 509.11 L547.72 508.09 L549.44 507.07 L551.17 506.05 L552.92 505.04 L554.69 504.02 L556.47 503.00 L558.26 501.98 L560.07 500.96 L561.90 499.95 L563.74 498.93 L565.59 497.91 L567.46 496.89 L569.35 495.88 L571.25 494.86 L573.16 493.84 L575.09 492.82 L577.03 491.81 L578.99 490.79 L580.96 489.77 L582.95 488.75 L584.95 487.74 L586.96 486.72 L588.99 485.70 L591.03 484.68 L593.09 483.67 L595.16 482.65 L597.24 481.63 L599.34 480.61 L601.45 479.60 L603.58 478.58 L605.72 477.56 L607.88 476.54 L610.04 475.53 L612.22 474.51 L614.42 473.49 L616.63 472.47 L618.85 471.46 L621.08 470.44 L623.33 469.42 L625.59 468.40 L627.87 467.39 L630.16 466.37 L632.46 465.35 L634.77 464.33 L637.10 463.32 L639.44 462.30 L641.79 461.28 L644.16 460.26 L646.54 459.25 L648.93 458.23 L651.33 457.21 L653.75 456.19 L656.18 455.18 L658.62 454.16 L661.08 453.14 L663.55 452.12 L666.02 451.11 L668.52 450.09 L671.02 449.07 L673.54 448.05 L676.07 447.04 L678.61 446.02 L681.16 445.00 L683.72 443.98 L686.30 442.96 L688.89 441.95 L691.49 440.93 L694.10 439.91 L696.72 438.89 L699.36 437.88 L702.01 436.86 L704.67 435.84 L707.34 434.82 L710.02 433.81 L712.71 432.79 L715.42 431.77 L718.13 430.75 L720.86 429.74 L723.60 428.72 L726.35 427.70 L729.11 426.68 L731.88 425.67 L734.66 424.65 L737.46 423.63 L740.26 422.61 L743.08 421.60 L745.90 420.58 L748.74 419.56 L751.59 418.54 L754.45 417.53 L757.31 416.51 L760.19 415.49 L763.08 414.47 L765.98 413.46 L768.89 412.44 L771.81 411.42 L774.75 410.40 L777.69 409.39 L780.64 408.37 L783.60 407.35 L786.57 406.33 L789.55 405.32 L792.54 404.30 L795.55 403.28 L798.56 402.26 L801.58 401.25 L804.61 400.23 L807.65 399.21 L810.70 398.19 L813.76 397.18 L816.83 396.16 L819.91 395.14 L822.99 394.12 L826.09 393.11 L829.20 392.09 L832.31 391.07 L835.44 390.05 L838.57 389.04 L841.72 388.02 L844.87 387.00 L848.03 385.98 L851.20 384.96 L854.38 383.95 L857.57 382.93 L860.76 381.91 L863.97 380.89 L867.18 379.88 L870.40 378.86 L873.63 377.84 L876.87 376.82 L880.12 375.81 L883.38 374.79 L886.64 373.77 L889.92 372.75 L893.20 371.74 L896.49 370.72 L899.78 369.70 L903.09 368.68 L906.40 367.67 L909.72 366.65 L913.05 365.63 L916.39 364.61 L919.74 363.60 L923.09 362.58 L926.45 361.56 L929.82 360.54 L933.19 359.53 L936.58 358.51 L939.97 357.49 L943.37 356.47 L946.77 355.46 L950.18 354.44 L953.60 353.42 L957.03 352.40 L960.47 351.39 L963.91 350.37 L967.36 349.35 L970.81 348.33 L974.27 347.32 L977.74 346.30 L981.22 345.28 L984.70 344.26 L988.19 343.25 L991.69 342.23 L995.19 341.21 L998.70 340.19 L1002.22 339.18 L1005.74 338.16 L1009.27 337.14 L1012.81 336.12 L1016.35 335.11 L1019.90 334.09 L1023.45 333.07 L1027.01 332.05 L1030.58 331.04 L1034.15 330.02 L1037.73 329.00" fill="none" stroke="#1f77b4" stroke-width="2.083" stroke-linecap="square" stroke-linejoin="round"/>
<circle cx="232.5" cy="735.5" r="4.861" fill="#ff7f0e"/>
<circle cx="308.5" cy="591.5" r="4.861" fill="#ff7f0e"/>
<circle cx="417.5" cy="463.5" r="4.861" fill="#ff7f0e"/>
<circle cx="591.5" cy="346.5" r="4.861" fill="#ff7f0e"/>
<circle cx="947.5" cy="186.5" r="4.861" fill="#ff7f0e"/>
<path d="M232.10 735.00 L232.43 734.08 L232.76 733.17 L233.09 732.25 L233.42 731.33 L233.76 730.42 L234.10 729.50 L234.44 728.58 L234.78 727.67 L235.13 726.75 L235.48 725.83 L235.83 724.92 L236.18 724.00 L236.54 723.09 L236.90 722.17 L237.26 721.25 L237.62 720.34 L237.99 719.42 L238.36 718.50 L238.73 717.59 L239.10 716.67 L239.48 715.75 L239.85 714.84 L240.23 713.92 L240.62 713.00 L241.00 712.09 L241.39 711.17 L241.78 710.25 L242.17 709.34 L242.56 708.42 L242.96 707.50 L243.35 706.59 L243.75 705.67 L244.16 704.75 L244.56 703.84 L244.97 702.92 L245.38 702.01 L245.79 701.09 L246.20 700.17 L246.62 699.26 L247.03 698.34 L247.45 697.42 L247.87 696.51 L248.30 695.59 L248.72 694.67 L249.15 693.76 L249.58 692.84 L250.02 691.92 L250.45 691.01 L250.89 690.09 L251.32 689.17 L251.76 688.26 L252.21 687.34 L252.65 686.42 L253.10 685.51 L253.55 684.59 L254.00 683.67 L254.45 682.76 L254.90 681.84 L255.36 680.92 L255.82 680.01 L256.28 679.09 L256.74 678.18 L257.20 677.26 L257.67 676.34 L258.14 675.43 L258.61 674.51 L259.08 673.59 L259.55 672.68 L260.03 671.76 L260.51 670.84 L260.98 669.93 L261.47 669.01 L261.95 668.09 L262.43 667.18 L262.92 666.26 L263.41 665.34 L263.90 664.43 L264.39 663.51 L264.88 662.59 L265.38 661.68 L265.87 660.76 L266.37 659.84 L266.87 658.93 L267.37 658.01 L267.88 657.10 L268.38 656.18 L268.89 655.26 L269.40 654.35 L269.91 653.43 L270.42 652.51 L270.93 651.60 L271.45 650.68 L271.96 649.76 L272.48 648.85 L273.00 647.93 L273.52 647.01 L274.05 646.10 L274.57 645.18 L275.10 644.26 L275.63 643.35 L276.16 642.43 L276.69 641.51 L277.22 640.60 L277.75 639.68 L278.29 638.76 L278.82 637.85 L279.36 636.93 L279.90 636.02 L280.44 635.10 L280.99 634.18 L281.53 633.27 L282.07 632.35 L282.62 631.43 L283.17 630.52 L283.72 629.60 L284.27 628.68 L284.82 627.77 L285.38 626.85 L285.93 625.93 L286.49 625.02 L287.05 624.10 L287.60 623.18 L288.17 622.27 L288.73 621.35 L289.29 620.43 L289.85 619.52 L290.42 618.60 L290.99 617.68 L291.55 616.77 L292.12 615.85 L292.69 614.93 L293.27 614.02 L293.84 613.10 L294.41 612.19 L294.99 611.27 L295.57 610.35 L296.14 609.44 L296.72 608.52 L297.30 607.60 L297.88 606.69 L298.47 605.77 L299.05 604.85 L299.63 603.94 L300.22 603.02 L300.81 602.10 L301.39 601.19 L301.98 600.27 L302.57 599.35 L303.16 598.44 L303.75 597.52 L304.35 596.60 L304.94 595.69 L305.54 594.77 L306.13 593.85 L306.73 592.94 L307.33 592.02 L307.93 591.11 L308.53 590.19 L309.13 589.27 L309.74 588.36 L310.34 587.44 L310.95 586.52 L311.56 585.61 L312.18 584.69 L312.79 583.77 L313.41 582.86 L314.03 581.94 L314.66 581.02 L315.28 580.11 L315.91 579.19 L316.54 578.27 L317.17 577.36 L317.80 576.44 L318.44 575.52 L319.08 574.61 L319.72 573.69 L320.36 572.77 L321.01 571.86 L321.65 570.94 L322.30 570.03 L322.96 569.11 L323.61 568.19 L324.27 567.28 L324.93 566.36 L325.59 565.44 L326.25 564.53 L326.92 563.61 L327.59 562.69 L328.26 561.78 L328.93 560.86 L329.61 559.94 L330.29 559.03 L330.97 558.11 L331.66 557.19 L332.34 556.28 L333.03 555.36 L333.72 554.44 L334.42 553.53 L335.11 552.61 L335.81 551.69 L336.51 550.78 L337.22 549.86 L337.93 548.94 L338.63 548.03 L339.35 547.11 L340.06 546.20 L340.78 545.28 L341.50 544.36 L342.22 543.45 L342.95 542.53 L343.67 541.61 L344.40 540.70 L345.14 539.78 L345.87 538.86 L346.61 537.95 L347.35 537.03 L348.10 536.11 L348.84 535.20 L349.59 534.28 L350.35 533.36 L351.10 532.45 L351.86 531.53 L352.62 530.61 L353.38 529.70 L354.15 528.78 L354.92 527.86 L355.69 526.95 L356.46 526.03 L357.24 525.12 L358.02 524.20 L358.81 523.28 L359.59 522.37 L360.38 521.45 L361.17 520.53 L361.97 519.62 L362.76 518.70 L363.57 517.78 L364.37 516.87 L365.18 515.95 L365.99 515.03 L366.80 514.12 L367.61 513.20 L368.43 512.28 L369.25 511.37 L370.08 510.45 L370.91 509.53 L371.74 508.62 L372.57 507.70 L373.41 506.78 L374.25 505.87 L375.09 504.95 L375.93 504.04 L376.78 503.12 L377.63 502.20 L378.49 501.29 L379.35 500.37 L380.21 499.45 L381.07 498.54 L381.94 497.62 L382.81 496.70 L383.69 495.79 L384.56 494.87 L385.44 493.95 L386.33 493.04 L387.21 492.12 L388.10 491.20 L389.00 490.29 L389.89 489.37 L390.79 488.45 L391.70 487.54 L392.60 486.62 L393.51 485.70 L394.43 484.79 L395.34 483.87 L396.26 482.95 L397.19 482.04 L398.11 481.12 L399.04 480.21 L399.97 479.29 L400.91 478.37 L401.85 477.46 L402.79 476.54 L403.74 475.62 L404.69 474.71 L405.64 473.79 L406.60 472.87 L407.56 471.96 L408.52 471.04 L409.49 470.12 L410.46 469.21 L411.43 468.29 L412.41 467.37 L413.39 466.46 L414.38 465.54 L415.37 464.62 L416.36 463.71 L417.35 462.79 L418.36 461.87 L419.37 460.96 L420.38 460.04 L421.41 459.13 L422.44 458.21 L423.48 457.29 L424.52 456.38 L425.57 455.46 L426.63 454.54 L427.70 453.63 L428.77 452.71 L429.85 451.79 L430.94 450.88 L432.03 449.96 L433.13 449.04 L434.24 448.13 L435.36 447.21 L436.48 446.29 L437.60 445.38 L438.74 444.46 L439.88 443.54 L441.02 442.63 L442.18 441.71 L443.34 440.79 L444.50 439.88 L445.67 438.96 L446.85 438.05 L448.04 437.13 L449.23 436.21 L450.42 435.30 L451.63 434.38 L452.83 433.46 L454.05 432.55 L455.27 431.63 L456.50 430.71 L457.73 429.80 L458.97 428.88 L460.21 427.96 L461.47 427.05 L462.72 426.13 L463.98 425.21 L465.25 424.30 L466.52 423.38 L467.80 422.46 L469.09 421.55 L470.38 420.63 L471.67 419.71 L472.98 418.80 L474.28 417.88 L475.59 416.96 L476.91 416.05 L478.23 415.13 L479.56 414.22 L480.89 413.30 L482.23 412.38 L483.58 411.47 L484.93 410.55 L486.28 409.63 L487.64 408.72 L489.00 407.80 L490.37 406.88 L491.74 405.97 L493.12 405.05 L494.51 404.13 L495.89 403.22 L497.29 402.30 L498.69 401.38 L500.09 400.47 L501.50 399.55 L502.91 398.63 L504.32 397.72 L505.74 396.80 L507.17 395.88 L508.60 394.97 L510.03 394.05 L511.47 393.14 L512.92 392.22 L514.36 391.30 L515.81 390.39 L517.27 389.47 L518.73 388.55 L520.20 387.64 L521.66 386.72 L523.14 385.80 L524.61 384.89 L526.09 383.97 L527.58 383.05 L529.07 382.14 L530.56 381.22 L532.06 380.30 L533.56 379.39 L535.06 378.47 L536.57 377.55 L538.08 376.64 L539.59 375.72 L541.11 374.80 L542.63 373.89 L544.16 372.97 L545.69 372.06 L547.22 371.14 L548.76 370.22 L550.30 369.31 L551.84 368.39 L553.39 367.47 L554.94 366.56 L556.49 365.64 L558.05 364.72 L559.60 363.81 L561.17 362.89 L562.73 361.97 L564.30 361.06 L565.87 360.14 L567.45 359.22 L569.02 358.31 L570.60 357.39 L572.19 356.47 L573.77 355.56 L575.36 354.64 L576.95 353.72 L578.55 352.81 L580.15 351.89 L581.74 350.97 L583.35 350.06 L584.95 349.14 L586.56 348.23 L588.17 347.31 L589.78 346.39 L591.40 345.48 L593.01 344.56 L594.64 343.64 L596.27 342.73 L597.90 341.81 L599.54 340.89 L601.19 339.98 L602.84 339.06 L604.50 338.14 L606.16 337.23 L607.82 336.31 L609.50 335.39 L611.17 334.48 L612.86 333.56 L614.54 332.64 L616.24 331.73 L617.93 330.81 L619.64 329.89 L621.35 328.98 L623.06 328.06 L624.78 327.15 L626.50 326.23 L628.23 325.31 L629.96 324.40 L631.70 323.48 L633.45 322.56 L635.20 321.65 L636.95 320.73 L638.71 319.81 L640.48 318.90 L642.25 317.98 L644.02 317.06 L645.80 316.15 L647.59 315.23 L649.38 314.31 L651.18 313.40 L652.98 312.48 L654.78 311.56 L656.59 310.65 L658.41 309.73 L660.23 308.81 L662.06 307.90 L663.89 306.98 L665.72 306.07 L667.57 305.15 L669.41 304.23 L671.26 303.32 L673.12 302.40 L674.98 301.48 L676.85 300.57 L678.72 299.65 L680.59 298.73 L682.47 297.82 L684.36 296.90 L686.25 295.98 L688.15 295.07 L690.05 294.15 L691.95 293.23 L693.87 292.32 L695.78 291.40 L697.70 290.48 L699.63 289.57 L701.56 288.65 L703.49 287.73 L705.43 286.82 L707.38 285.90 L709.33 284.98 L711.28 284.07 L713.24 283.15 L715.21 282.24 L717.18 281.32 L719.15 280.40 L721.13 279.49 L723.11 278.57 L725.10 277.65 L727.10 276.74 L729.09 275.82 L731.10 274.90 L733.11 273.99 L735.12 273.07 L737.14 272.15 L739.16 271.24 L741.19 270.32 L743.22 269.40 L745.25 268.49 L747.30 267.57 L749.34 266.65 L751.39 265.74 L753.45 264.82 L755.51 263.90 L757.57 262.99 L759.64 262.07 L761.72 261.16 L763.80 260.24 L765.88 259.32 L767.97 258.41 L770.06 257.49 L772.16 256.57 L774.26 255.66 L776.37 254.74 L778.48 253.82 L780.60 252.91 L782.72 251.99 L784.85 251.07 L786.98 250.16 L789.11 249.24 L791.25 248.32 L793.40 247.41 L795.54 246.49 L797.70 245.57 L799.86 244.66 L802.02 243.74 L804.19 242.82 L806.36 241.91 L808.53 240.99 L810.71 240.08 L812.90 239.16 L815.09 238.24 L817.28 237.33 L819.48 236.41 L821.69 235.49 L823.89 234.58 L826.11 233.66 L828.32 232.74 L830.55 231.83 L832.77 230.91 L835.00 229.99 L837.24 229.08 L839.48 228.16 L841.72 227.24 L843.97 226.33 L846.22 225.41 L848.48 224.49 L850.74 223.58 L853.01 222.66 L855.28 221.74 L857.55 220.83 L859.83 219.91 L862.11 218.99 L864.40 218.08 L866.69 217.16 L868.99 216.25 L871.29 215.33 L873.60 214.41 L875.91 213.50 L878.22 212.58 L880.54 211.66 L882.86 210.75 L885.19 209.83 L887.52 208.91 L889.86 208.00 L892.20 207.08 L894.54 206.16 L896.89 205.25 L899.25 204.33 L901.60 203.41 L903.96 202.50 L906.33 201.58 L908.70 200.66 L911.08 199.75 L913.45 198.83 L915.84 197.91 L918.22 197.00 L920.62 196.08 L923.01 195.17 L925.41 194.25 L927.82 193.33 L930.22 192.42 L932.64 191.50 L935.05 190.58 L937.47 189.67 L939.90 188.75 L942.33 187.83 L944.76 186.92 L947.20 186.00" fill="none" stroke="#ff7f0e" stroke-width="2.083" stroke-dasharray="2.083 3.437"/>
<path d="M232.10 735.00 L232.46 733.98 L232.83 732.96 L233.20 731.95 L233.57 730.93 L233.94 729.91 L234.32 728.89 L234.70 727.88 L235.09 726.86 L235.48 725.84 L235.87 724.82 L236.26 723.81 L236.66 722.79 L237.05 721.77 L237.46 720.75 L237.86 719.74 L238.27 718.72 L238.68 717.70 L239.09 716.68 L239.51 715.67 L239.93 714.65 L240.35 713.63 L240.78 712.61 L241.21 711.60 L241.64 710.58 L242.07 709.56 L242.51 708.54 L242.95 707.53 L243.39 706.51 L243.83 705.49 L244.28 704.47 L244.73 703.46 L245.18 702.44 L245.64 701.42 L246.10 700.40 L246.56 699.39 L247.02 698.37 L247.49 697.35 L247.95 696.33 L248.43 695.32 L248.90 694.30 L249.38 693.28 L249.85 692.26 L250.34 691.25 L250.82 690.23 L251.31 689.21 L251.80 688.19 L252.29 687.18 L252.78 686.16 L253.28 685.14 L253.78 684.12 L254.28 683.11 L254.78 682.09 L255.29 681.07 L255.80 680.05 L256.31 679.04 L256.82 678.02 L257.34 677.00 L257.85 675.98 L258.37 674.96 L258.90 673.95 L259.42 672.93 L259.95 671.91 L260.48 670.89 L261.01 669.88 L261.54 668.86 L262.08 667.84 L262.62 666.82 L263.16 665.81 L263.70 664.79 L264.25 663.77 L264.79 662.75 L265.34 661.74 L265.90 660.72 L266.45 659.70 L267.00 658.68 L267.56 657.67 L268.12 656.65 L268.68 655.63 L269.25 654.61 L269.81 653.60 L270.38 652.58 L270.95 651.56 L271.52 650.54 L272.10 649.53 L272.67 648.51 L273.25 647.49 L273.83 646.47 L274.41 645.46 L275.00 644.44 L275.58 643.42 L276.17 642.40 L276.76 641.39 L277.35 640.37 L277.94 639.35 L278.54 638.33 L279.14 637.32 L279.73 636.30 L280.34 635.28 L280.94 634.26 L281.54 633.25 L282.15 632.23 L282.75 631.21 L283.36 630.19 L283.97 629.18 L284.59 628.16 L285.20 627.14 L285.82 626.12 L286.43 625.11 L287.05 624.09 L287.67 623.07 L288.30 622.05 L288.92 621.04 L289.55 620.02 L290.17 619.00 L290.80 617.98 L291.43 616.96 L292.06 615.95 L292.70 614.93 L293.33 613.91 L293.97 612.89 L294.61 611.88 L295.25 610.86 L295.89 609.84 L296.53 608.82 L297.17 607.81 L297.82 606.79 L298.46 605.77 L299.11 604.75 L299.76 603.74 L300.41 602.72 L301.06 601.70 L301.72 600.68 L302.37 599.67 L303.03 598.65 L303.68 597.63 L304.34 596.61 L305.00 595.60 L305.66 594.58 L306.32 593.56 L306.99 592.54 L307.65 591.53 L308.32 590.51 L308.99 589.49 L309.66 588.47 L310.33 587.46 L311.01 586.44 L311.69 585.42 L312.37 584.40 L313.05 583.39 L313.74 582.37 L314.43 581.35 L315.13 580.33 L315.82 579.32 L316.52 578.30 L317.22 577.28 L317.92 576.26 L318.63 575.25 L319.34 574.23 L320.05 573.21 L320.77 572.19 L321.49 571.18 L322.21 570.16 L322.93 569.14 L323.66 568.12 L324.39 567.11 L325.12 566.09 L325.86 565.07 L326.60 564.05 L327.34 563.04 L328.08 562.02 L328.83 561.00 L329.58 559.98 L330.34 558.96 L331.09 557.95 L331.85 556.93 L332.62 555.91 L333.38 554.89 L334.15 553.88 L334.92 552.86 L335.70 551.84 L336.48 550.82 L337.26 549.81 L338.05 548.79 L338.83 547.77 L339.62 546.75 L340.42 545.74 L341.22 544.72 L342.02 543.70 L342.82 542.68 L343.63 541.67 L344.44 540.65 L345.26 539.63 L346.07 538.61 L346.89 537.60 L347.72 536.58 L348.55 535.56 L349.38 534.54 L350.21 533.53 L351.05 532.51 L351.89 531.49 L352.74 530.47 L353.58 529.46 L354.44 528.44 L355.29 527.42 L356.15 526.40 L357.01 525.39 L357.88 524.37 L358.75 523.35 L359.62 522.33 L360.50 521.32 L361.38 520.30 L362.26 519.28 L363.15 518.26 L364.04 517.25 L364.93 516.23 L365.83 515.21 L366.73 514.19 L367.64 513.18 L368.54 512.16 L369.46 511.14 L370.37 510.12 L371.29 509.11 L372.22 508.09 L373.14 507.07 L374.08 506.05 L375.01 505.04 L375.95 504.02 L376.89 503.00 L377.84 501.98 L378.79 500.96 L379.74 499.95 L380.70 498.93 L381.66 497.91 L382.63 496.89 L383.60 495.88 L384.57 494.86 L385.55 493.84 L386.53 492.82 L387.52 491.81 L388.51 490.79 L389.50 489.77 L390.50 488.75 L391.50 487.74 L392.51 486.72 L393.52 485.70 L394.53 484.68 L395.55 483.67 L396.57 482.65 L397.60 481.63 L398.63 480.61 L399.66 479.60 L400.70 478.58 L401.74 477.56 L402.79 476.54 L403.84 475.53 L404.89 474.51 L405.95 473.49 L407.02 472.47 L408.09 471.46 L409.16 470.44 L410.23 469.42 L411.31 468.40 L412.40 467.39 L413.49 466.37 L414.58 465.35 L415.68 464.33 L416.78 463.32 L417.89 462.30 L419.01 461.28 L420.14 460.26 L421.27 459.25 L422.42 458.23 L423.57 457.21 L424.73 456.19 L425.90 455.18 L427.08 454.16 L428.27 453.14 L429.46 452.12 L430.67 451.11 L431.88 450.09 L433.10 449.07 L434.33 448.05 L435.57 447.04 L436.81 446.02 L438.07 445.00 L439.33 443.98 L440.60 442.96 L441.88 441.95 L443.16 440.93 L444.46 439.91 L445.76 438.89 L447.07 437.88 L448.38 436.86 L449.71 435.84 L451.04 434.82 L452.38 433.81 L453.73 432.79 L455.08 431.77 L456.44 430.75 L457.81 429.74 L459.19 428.72 L460.57 427.70 L461.96 426.68 L463.36 425.67 L464.76 424.65 L466.18 423.63 L467.59 422.61 L469.02 421.60 L470.45 420.58 L471.89 419.56 L473.34 418.54 L474.79 417.53 L476.25 416.51 L477.71 415.49 L479.19 414.47 L480.67 413.46 L482.15 412.44 L483.64 411.42 L485.14 410.40 L486.64 409.39 L488.15 408.37 L489.67 407.35 L491.19 406.33 L492.72 405.32 L494.26 404.30 L495.80 403.28 L497.34 402.26 L498.90 401.25 L500.45 400.23 L502.02 399.21 L503.59 398.19 L505.16 397.18 L506.74 396.16 L508.33 395.14 L509.92 394.12 L511.52 393.11 L513.12 392.09 L514.73 391.07 L516.34 390.05 L517.96 389.04 L519.59 388.02 L521.21 387.00 L522.85 385.98 L524.49 384.96 L526.13 383.95 L527.78 382.93 L529.43 381.91 L531.09 380.89 L532.75 379.88 L534.42 378.86 L536.09 377.84 L537.77 376.82 L539.45 375.81 L541.14 374.79 L542.83 373.77 L544.52 372.75 L546.22 371.74 L547.92 370.72 L549.63 369.70 L551.34 368.68 L553.06 367.67 L554.78 366.65 L556.50 365.63 L558.23 364.61 L559.96 363.60 L561.70 362.58 L563.44 361.56 L565.18 360.54 L566.93 359.53 L568.68 358.51 L570.43 357.49 L572.19 356.47 L573.95 355.46 L575.71 354.44 L577.48 353.42 L579.25 352.40 L581.03 351.39 L582.80 350.37 L584.59 349.35 L586.37 348.33 L588.16 347.32 L589.95 346.30 L591.74 345.28 L593.54 344.26 L595.34 343.25 L597.16 342.23 L598.98 341.21 L600.80 340.19 L602.63 339.18 L604.47 338.16 L606.32 337.14 L608.17 336.12 L610.02 335.11 L611.89 334.09 L613.76 333.07 L615.64 332.05 L617.52 331.04 L619.41 330.02 L621.30 329.00" fill="none" stroke="#ff7f0e" stroke-width="2.083" stroke-linecap="square" stroke-linejoin="round"/>
<line x1="150" y1="735.00" x2="1080" y2="735.00" stroke="#ff0000" stroke-width="2.083" stroke-dasharray="7.708 3.333"/>
<line x1="150" y1="329.00" x2="1080" y2="329.00" stroke="#ff0000" stroke-width="2.083" stroke-dasharray="7.708 3.333"/>
</g>
<line x1="223.5" y1="1068.5" x2="223.5" y2="1073.50" stroke="#000" stroke-width="1.111"/>
<line x1="338.5" y1="1068.5" x2="338.5" y2="1073.50" stroke="#000" stroke-width="1.111"/>
<line x1="453.5" y1="1068.5" x2="453.5" y2="1073.50" stroke="#000" stroke-width="1.111"/>
<line x1="569.5" y1="1068.5" x2="569.5" y2="1073.50" stroke="#000" stroke-width="1.111"/>
<line x1="684.5" y1="1068.5" x2="684.5" y2="1073.50" stroke="#000" stroke-width="1.111"/>
<line x1="800.5" y1="1068.5" x2="800.5" y2="1073.50" stroke="#000" stroke-width="1.111"/>
<line x1="915.5" y1="1068.5" x2="915.5" y2="1073.50" stroke="#000" stroke-width="1.111"/>
<line x1="1030.5" y1="1068.5" x2="1030.5" y2="1073.50" stroke="#000" stroke-width="1.111"/>
<line x1="150.5" y1="249.5" x2="145.50" y2="249.5" stroke="#000" stroke-width="1.111"/>
<line x1="150.5" y1="443.5" x2="145.50" y2="443.5" stroke="#000" stroke-width="1.111"/>
<line x1="150.5" y1="636.5" x2="145.50" y2="636.5" stroke="#000" stroke-width="1.111"/>
<line x1="150.5" y1="829.5" x2="145.50" y2="829.5" stroke="#000" stroke-width="1.111"/>
<line x1="150.5" y1="1023.5" x2="145.50" y2="1023.5" stroke="#000" stroke-width="1.111"/>
<rect x="150.5" y="144.5" width="930" height="924" fill="none" stroke="#000" stroke-width="1.111"/>
<rect x="163.5" y="157.5" width="236" height="80" rx="4.2" ry="4.2" fill="#fff" fill-opacity="0.8" stroke="#ccc" stroke-opacity="0.8" stroke-width="1.389"/>
<line x1="173" y1="177" x2="223" y2="177" stroke="#1f77b4" stroke-width="2.083" stroke-linecap="square"/>
<line x1="173" y1="213" x2="223" y2="213" stroke="#ff7f0e" stroke-width="2.083" stroke-linecap="square"/>
<text id="t0" x="404.13 430.79 460.72 485.91 499.94 524.86 544.86 569.26 584.80 597.91 610.26 634.99 659.72 672.33 696.82 709.18 724.60 749.33 774.07 786.41 811.15" y="105.11" font-size="38.889">BDR-psnr: 39.7 (48.3)</text>
<text id="t1" x="490.31 516.72 527.53 542.51 558.75 582.58 597.81 621.48 634.09 656.61 681.03 691.83 707.08 720.17" y="1170.61" font-size="38.889">Bitrate kbit/s</text>
<text id="t2" transform="translate(63.51 653.69) rotate(-90)" x="0.75 24.42 44.42 69.06" y="0.00" font-size="38.889">psnr</text>
<text id="t3" x="243.00 258.11 273.77 282.23 299.59 315.25 331.16 340.17 356.33 372.23" y="185.50" font-size="25.000">S3-A05-265</text>
<text id="t4" x="243.00 258.11 273.77 280.75 296.02 311.67 327.83 336.30 351.80 368.66" y="222.00" font-size="25.000">S3-T05-AV1</text>
<text id="t6" x="192.10 206.74 222.65 238.55" y="1096.72" font-size="25.000">1000</text>
<text id="t7" x="306.94 322.08 337.74 353.64" y="1096.72" font-size="25.000">2000</text>
<text id="t8" x="422.90 437.79 453.70 469.60" y="1096.72" font-size="25.000">3000</text>
<text id="t9" x="536.99 551.88 567.79 583.69" y="1096.72" font-size="25.000">4000</text>
<text id="t10" x="653.01 667.65 683.56 699.46" y="1096.72" font-size="25.000">5000</text>
<text id="t11" x="769.04 783.93 799.84 815.74" y="1096.72" font-size="25.000">6000</text>
<text id="t12" x="883.00 898.64 914.80 930.45" y="1096.72" font-size="25.000">7000</text>
<text id="t13" x="999.08 1013.97 1029.63 1045.78" y="1096.72" font-size="25.000">8000</text>
<text id="t16" x="109.90 124.79" y="1032.40" font-size="25.000">35</text>
<text id="t17" x="108.90 124.04" y="838.95" font-size="25.000">40</text>
<text id="t18" x="109.03 123.92" y="645.50" font-size="25.000">45</text>
<text id="t19" x="109.90 124.79" y="452.05" font-size="25.000">50</text>
<text id="t20" x="110.03 124.67" y="258.60" font-size="25.000">55</text>
</svg></body></html>
